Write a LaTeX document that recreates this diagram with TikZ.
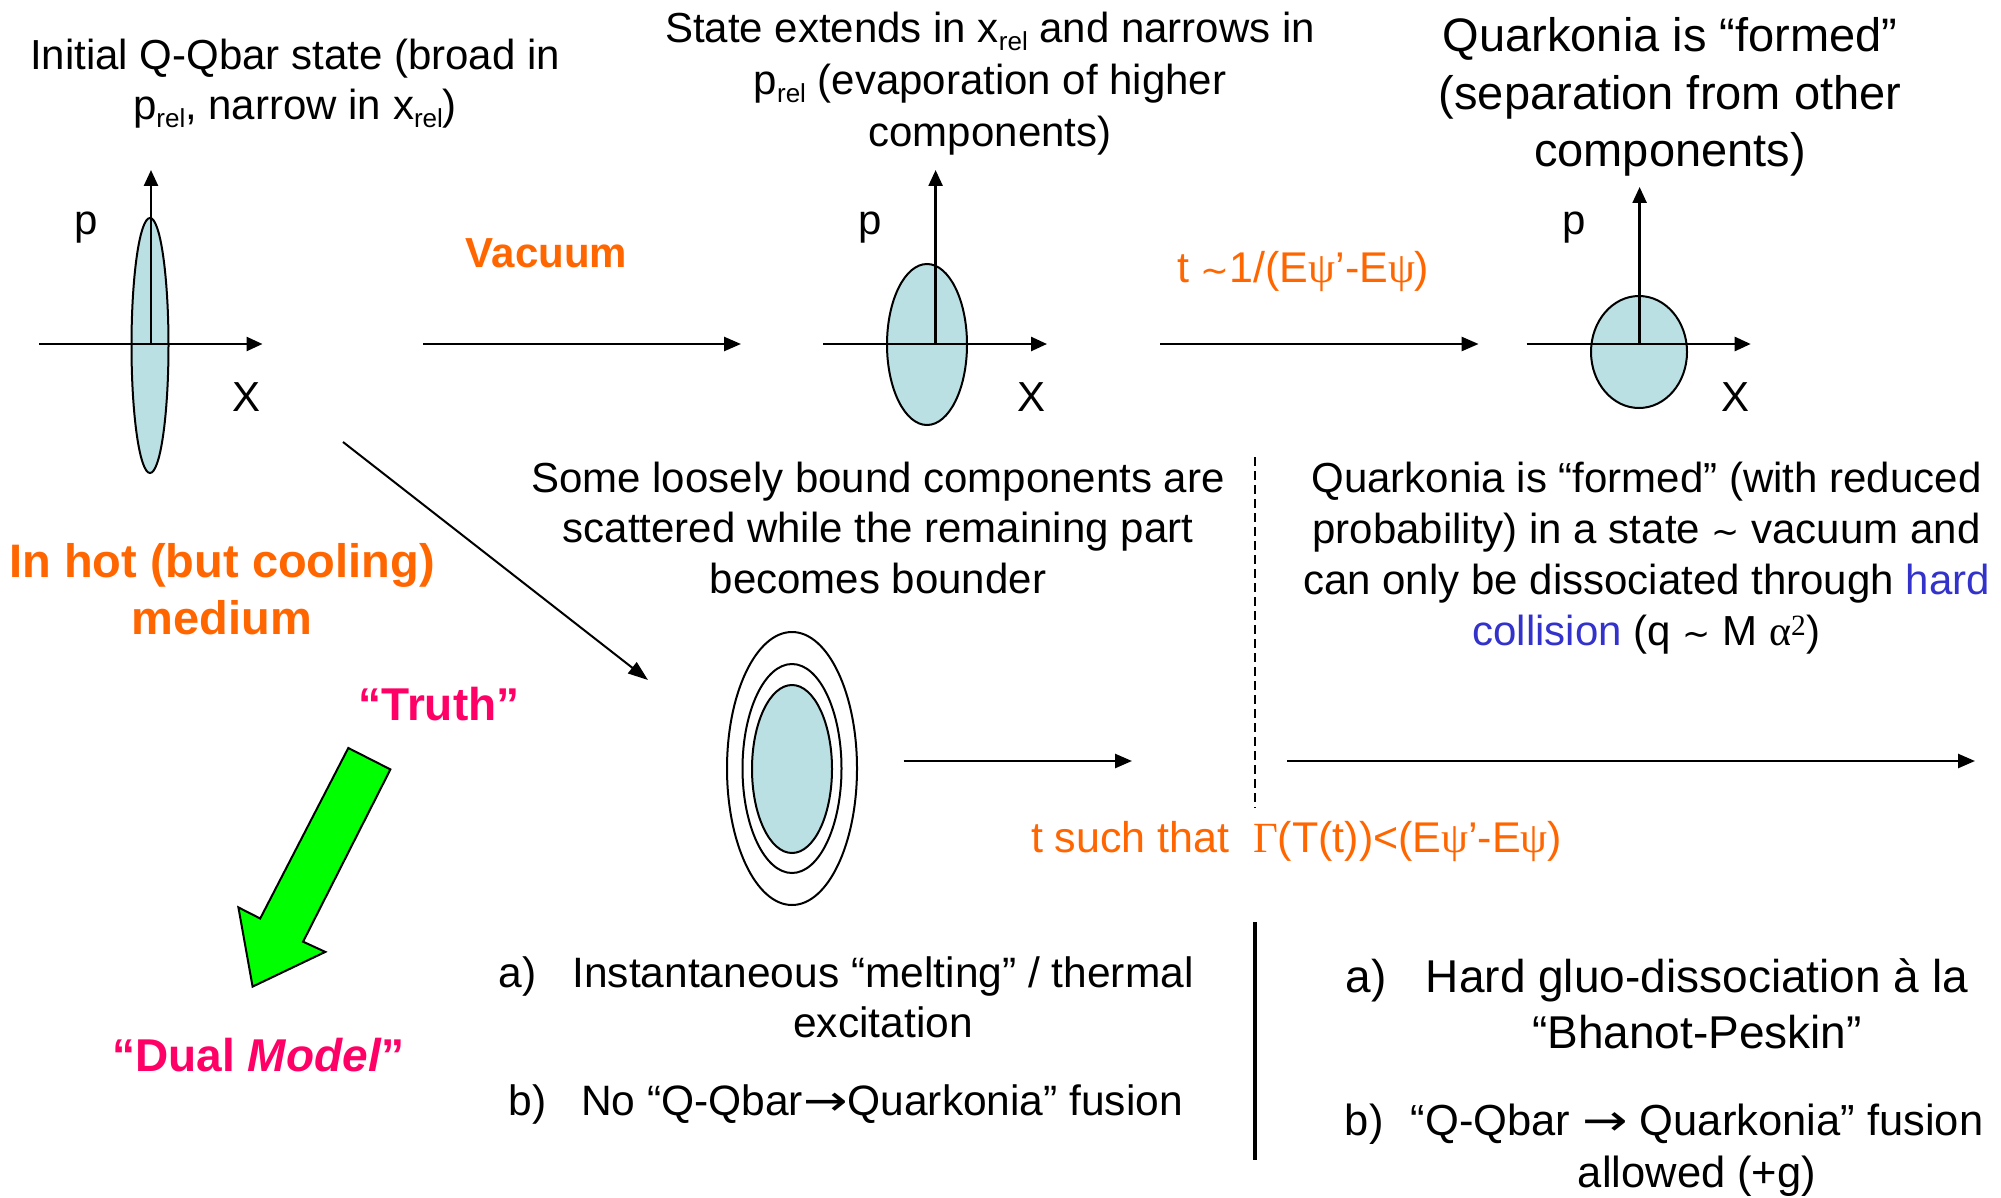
\documentclass[tikz,border=0pt]{standalone}
\usepackage{graphicx}
\usepackage{fontspec}
\setmainfont{Liberation Sans}
\newfontfamily\serif{Liberation Serif}
\newfontfamily\djv{DejaVu Sans}
\usetikzlibrary{arrows.meta,shapes.geometric}
\definecolor{qorange}{HTML}{FF6600}
\definecolor{qmagenta}{HTML}{FF0066}
\definecolor{qblue}{HTML}{3333CC}
\definecolor{qfill}{HTML}{BBE0E3}
\definecolor{qgreen}{HTML}{00FF00}
\newcommand\rsub[1]{\raisebox{-0.19em}{\scalebox{0.62}{#1}}}
\newcommand\fsz[2]{\fontsize{#1}{#2}\selectfont}
\newcommand\tld{{\djv\scalebox{0.8}{∼}}}
\newcommand\gr[1]{{\serif #1}}
\newcommand\rarr{{\djv\scalebox{1.25}[1]{→}}}
\begin{document}
\begin{tikzpicture}[x=1pt,y=-1pt,
  txt/.style={inner sep=0pt, outer sep=0pt, anchor=base, align=center},
  lbl/.style={inner sep=0pt, outer sep=0pt, anchor=base west},
  axis/.style={line width=2.5pt, -{Triangle[length=16pt,width=14pt]}},
  flow/.style={line width=2.5pt, -{Triangle[length=17pt,width=14pt]}},
  state/.style={ellipse, draw, line width=2pt, fill=qfill, inner sep=0pt},
  ring/.style={ellipse, draw, line width=2pt, inner sep=0pt},
  hot/.style={text=qorange},
  pink/.style={text=qmagenta, font=\bfseries\fsz{46}{46}, inner sep=0pt, anchor=base},
  bigarrow/.style={draw=black, line width=2pt, fill=qgreen, line join=miter}
]
\fill[white] (0,0) rectangle (2001,1198);
\useasboundingbox (0,0) rectangle (2001,1198);

% ---- phase-space diagram 1
\node[state, minimum width=37pt, minimum height=255pt] (e1) at (150,345.5) {};
\coordinate (o1) at (151,344);
\coordinate (x1a) at (39,344);   \coordinate (x1b) at (262.5,344);
\coordinate (p1) at (151,170);
\draw[axis] (x1a) -- (x1b);
\draw[axis] (o1) -- (p1);
\node[txt, font=\fsz{42}{42}] (pl1) at (86,235) {p};
\node[txt, font=\fsz{42}{42}] (xl1) at (247,411) {X};

% ---- phase-space diagram 2
\node[state, minimum width=80pt, minimum height=161pt] (e2) at (927,344.5) {};
\coordinate (o2) at (935.6,344);
\coordinate (x2a) at (823,344);  \coordinate (x2b) at (1047,344);
\coordinate (p2) at (935.6,170);
\draw[axis] (x2a) -- (x2b);
\draw[axis] (o2) -- (p2);
\node[txt, font=\fsz{42}{42}] (pl2) at (870.5,235) {p};
\node[txt, font=\fsz{42}{42}] (xl2) at (1031,411) {X};

% ---- phase-space diagram 3
\node[state, minimum width=96pt, minimum height=112pt] (e3) at (1639,352) {};
\coordinate (o3) at (1639.6,344);
\coordinate (x3a) at (1526.5,344); \coordinate (x3b) at (1750.7,344);
\coordinate (p3) at (1639.6,187);
\draw[axis] (x3a) -- (x3b);
\draw[axis] (o3) -- (p3);
\node[txt, font=\fsz{42}{42}] (pl3) at (1574,235) {p};
\node[txt, font=\fsz{42}{42}] (xl3) at (1735,411) {X};

% ---- titles (base anchor = baseline of the last line)
\node[txt, font=\fsz{42}{50}] (t1) at (295,120)
  {Initial Q-Qbar state (broad in\\p\rsub{rel}, narrow in x\rsub{rel})};
\node[txt, font=\fsz{42}{52}] (t2) at (990,147)
  {State extends in x\rsub{rel} and narrows in\\p\rsub{rel} (evaporation of higher\\components)};
\node[txt, font=\fsz{47}{57.5}] (t3) at (1670,167)
  {Quarkonia is “formed”\\(separation from other\\components)};

% ---- top arrows
\coordinate (a1s) at (423,344);  \coordinate (a1e) at (741,344);
\coordinate (a2s) at (1160,344); \coordinate (a2e) at (1478.6,344);
\draw[flow] (a1s) -- (a1e);
\draw[flow] (a2s) -- (a2e);
\node[txt, hot, font=\bfseries\fsz{42}{42}] (vac) at (546.5,267) {Vacuum};
\node[lbl, hot, font=\fsz{43}{43}] (tau1) at (1177,282)
  {t \tld1/(E\gr{ψ}’-E\gr{ψ})};

% ---- medium branch
\node[txt, hot, font=\bfseries\fsz{47}{57}] (med) at (222,634) {In hot (but cooling)\\medium};
\coordinate (ds) at (343,442); \coordinate (de) at (648,680);
\draw[line width=2pt, -{Triangle[length=20pt,width=14pt]}] (ds) -- (de);

\node[ring, minimum width=130pt, minimum height=273pt] (r3) at (792,768.5) {};
\node[ring, minimum width=99pt, minimum height=209pt] (r2) at (792,768.5) {};
\node[state, minimum width=80pt, minimum height=168pt] (r1) at (792,769) {};

\node[txt, font=\fsz{42}{50.5}] (mtxt) at (878,593)
  {Some loosely bound components are\\scattered while the remaining part\\becomes bounder};
\node[txt, font=\fsz{42}{51}] (rtxt) at (1646.5,645)
  {Quarkonia is “formed” (with reduced\\probability) in a state \tld{} vacuum and\\can only be dissociated through \textcolor{qblue}{hard}\\\textcolor{qblue}{collision} (q \tld{} M \gr{α\textsuperscript{2}})};

\coordinate (a3s) at (903.5,761); \coordinate (a3e) at (1132,761);
\coordinate (a4s) at (1287,761);  \coordinate (a4e) at (1975,761);
\draw[flow] (a3s) -- (a3e);
\draw[flow] (a4s) -- (a4e);
\coordinate (dv1) at (1254.5,457); \coordinate (dv2) at (1254.5,808);
\draw[line width=2pt, dash pattern=on 9pt off 5pt] (dv1) -- (dv2);
\node[lbl, hot, font=\fsz{43}{43}] (tau2) at (1031,852)
  {t such that\hspace{0.55em}\gr{Γ}(T(t))<(E\gr{ψ}’-E\gr{ψ})};

% ---- truth / dual model
\node[pink] (truth) at (439,720) {“Truth”};
\draw[bigarrow] (348.3,748) -- (390.4,769.4) -- (303.1,941.7) -- (325.3,951.9)
  -- (252.6,986.6) -- (238.4,907.4) -- (260.2,918.5) -- cycle;
\node[pink] (dual) at (258.5,1071) {“Dual \textit{Model}”};

% ---- bottom lists
\node[lbl, font=\fsz{42.5}{42.5}] (la) at (498.5,987) {a)};
\node[txt, font=\fsz{42.5}{50}] (ia) at (883,1037) {Instantaneous “melting” / thermal\\excitation};
\node[lbl, font=\fsz{42.5}{42.5}] (lb) at (508.7,1115) {b)};
\node[txt, font=\fsz{42.5}{50}] (ib) at (882,1115) {No “Q-Qbar\rarr Quarkonia” fusion};

\coordinate (sv1) at (1254.8,922); \coordinate (sv2) at (1254.8,1160);
\draw[line width=4pt] (sv1) -- (sv2);

\node[lbl, font=\fsz{46}{46}] (ra) at (1345.8,992) {a)};
\node[txt, font=\fsz{46}{56}] (ja) at (1697,1048) {Hard gluo-dissociation à la\\“Bhanot-Peskin”};
\node[lbl, font=\fsz{43.5}{43.5}] (rb) at (1344.8,1135) {b)};
\node[txt, font=\fsz{43.5}{52}] (jb) at (1697,1187) {“Q-Qbar \rarr{} Quarkonia” fusion\\allowed (+g)};
\end{tikzpicture}
\end{document}
